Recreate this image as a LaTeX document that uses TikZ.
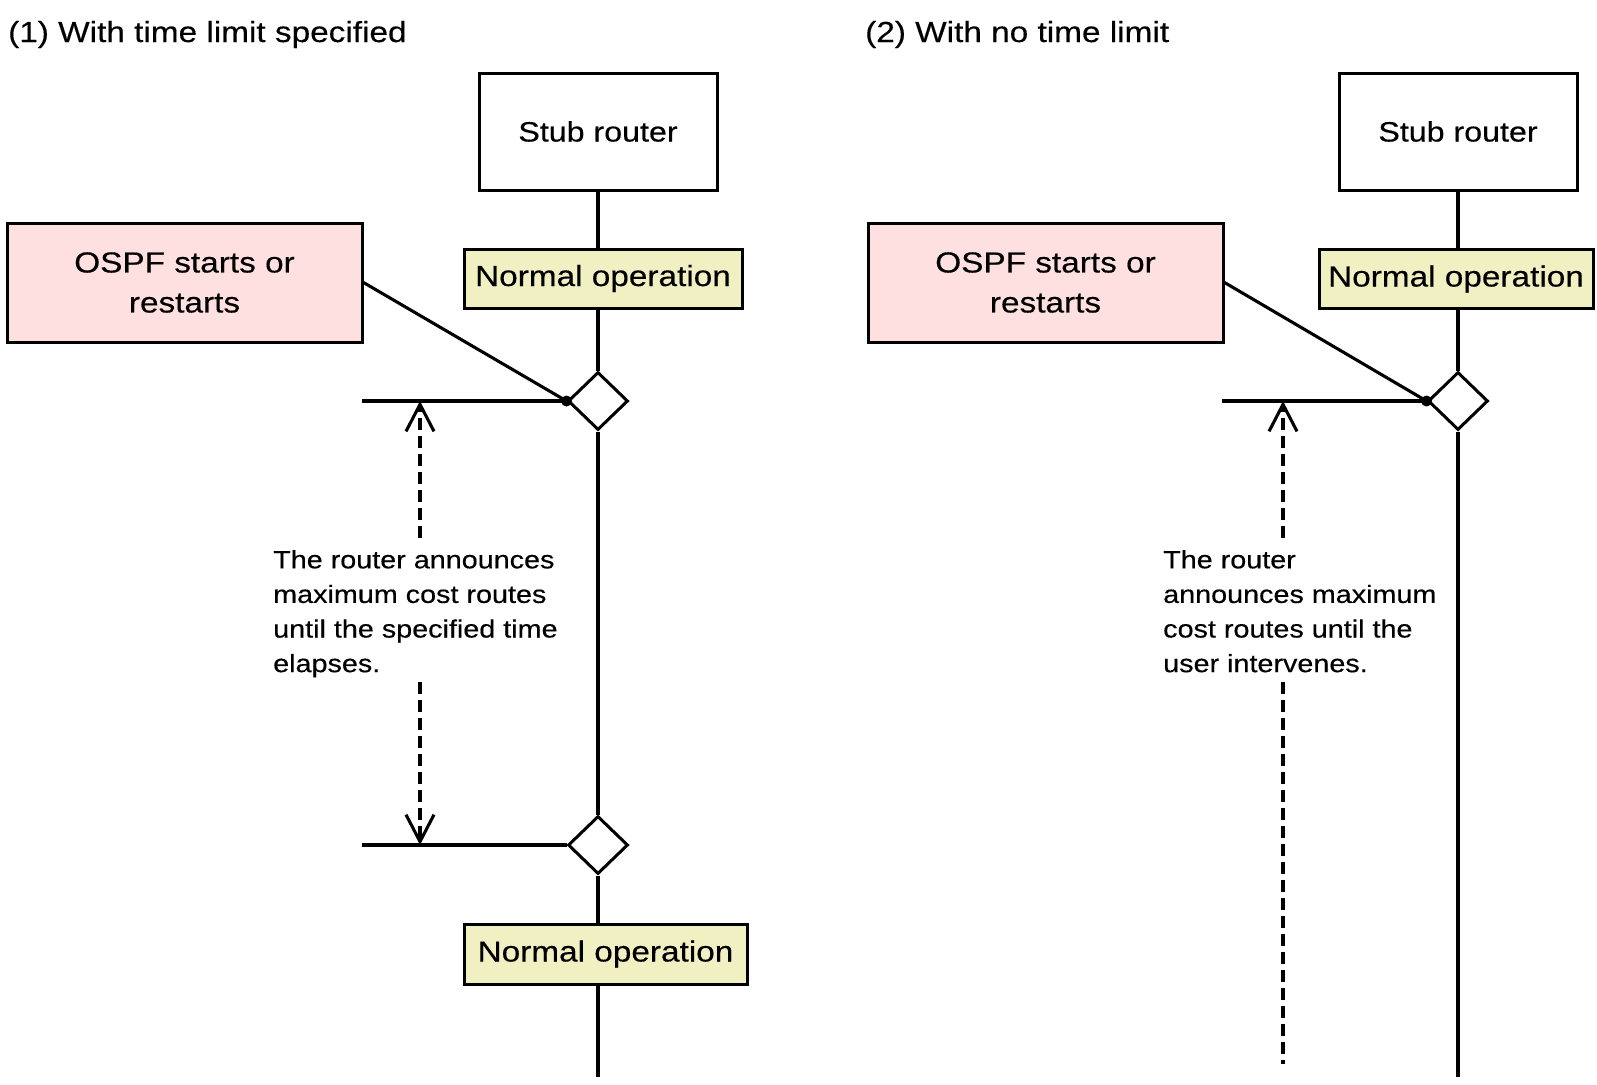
\documentclass[tikz,border=0pt]{standalone}
\usepackage{fontspec}
\setmainfont{Liberation Sans}[FakeStretch=1.15,FakeBold=0.35]
\usetikzlibrary{shapes.geometric,arrows.meta}
\definecolor{pinkfill}{RGB}{255,224,224}
\definecolor{yelfill}{RGB}{240,240,194}
\begin{document}
\begin{tikzpicture}[x=1pt,y=-1pt,
  box/.style={draw,line width=3pt,inner sep=0pt,align=center},
  stubbox/.style={box,fill=white,minimum width=238pt,minimum height=117pt,font=\fontsize{28}{34}\selectfont},
  opbox/.style={box,fill=yelfill,minimum width=278pt,minimum height=59pt,font=\fontsize{29}{35}\selectfont},
  evbox/.style={box,fill=pinkfill,minimum width=355pt,minimum height=119pt,font=\fontsize{29}{40}\selectfont},
  dia/.style={diamond,draw,line width=3pt,fill=white,inner sep=0pt,minimum width=60pt,minimum height=58pt},
  ln/.style={line width=3.1pt},
  dashln/.style={line width=3.1pt,dash pattern=on 12pt off 6pt},
  vee/.style={-{Straight Barb[length=27pt,width=28pt]}},
  titletxt/.style={anchor=base west,inner sep=0pt,font=\fontsize{29}{35}\selectfont},
  bodytxt/.style={anchor=north west,inner sep=0pt,align=left,font=\fontsize{25}{34.6}\selectfont}
]
\useasboundingbox (0,0) rectangle (1597,1084);

% ---------- Panel 1 ----------
\node[titletxt] (h1) at (8,42) {(1) With time limit specified};
\node[stubbox] (s1) at (598,131.5) {Stub router};
\node[opbox] (o1) at (603,278.5) {Normal operation};
\node[evbox] (e1) at (184.5,282.5) {OSPF starts or\\restarts};
\node[dia] (d1) at (598,401) {};
\node[dia] (d2) at (598,845) {};
\node[opbox,minimum width=283pt,minimum height=60pt] (o2) at (605.5,954) {Normal operation};
\coordinate (end1) at (598,1077);
\coordinate (hl1) at (362,401);
\coordinate (hl2) at (362,845);
\coordinate (a1) at (420,401);
\coordinate (a1s) at (420,538);
\coordinate (a2s) at (420,682);
\coordinate (a2) at (420,845);

\draw[ln] (s1.south) -- (s1.south |- o1.north);
\draw[ln] (s1.south |- o1.south) -- (d1.north);
\draw[ln] (d1.south) -- (d2.north);
\draw[ln] (d2.south) -- (d2.south |- o2.north);
\draw[ln] (d2.south |- o2.south) -- (end1);
\draw[ln] (hl1) -- (d1.west);
\draw[ln] (hl2) -- (d2.west);
\draw[ln] (e1.east) -- (d1.west);
\fill (d1.west) circle (5.5pt);
\draw[dashln,vee] (a1s) -- (a1);
\draw[dashln,vee] (a2s) -- (a2);
\node[bodytxt] (t1) at (273,550) {The router announces\\maximum cost routes\\until the specified time\\elapses.};

% ---------- Panel 2 ----------
\node[titletxt] (h2) at (865,42) {(2) With no time limit};
\node[stubbox] (s2) at (1458,131.5) {Stub router};
\node[opbox,minimum width=274pt] (o3) at (1456,279) {Normal operation};
\node[evbox] (e2) at (1045.5,282.5) {OSPF starts or\\restarts};
\node[dia] (d3) at (1458,401) {};
\coordinate (end2) at (1458,1077);
\coordinate (hl3) at (1222,401);
\coordinate (b1) at (1283,401);
\coordinate (b1s) at (1283,538);
\coordinate (b2s) at (1283,682);
\coordinate (b2) at (1283,1064);

\draw[ln] (s2.south) -- (s2.south |- o3.north);
\draw[ln] (s2.south |- o3.south) -- (d3.north);
\draw[ln] (d3.south) -- (end2);
\draw[ln] (hl3) -- (d3.west);
\draw[ln] (e2.east) -- (d3.west);
\fill (d3.west) circle (5.5pt);
\draw[dashln,vee] (b1s) -- (b1);
\draw[dashln] (b2s) -- (b2);
\node[bodytxt] (t2) at (1163,550) {The router\\announces maximum\\cost routes until the\\user intervenes.};
\end{tikzpicture}
\end{document}
